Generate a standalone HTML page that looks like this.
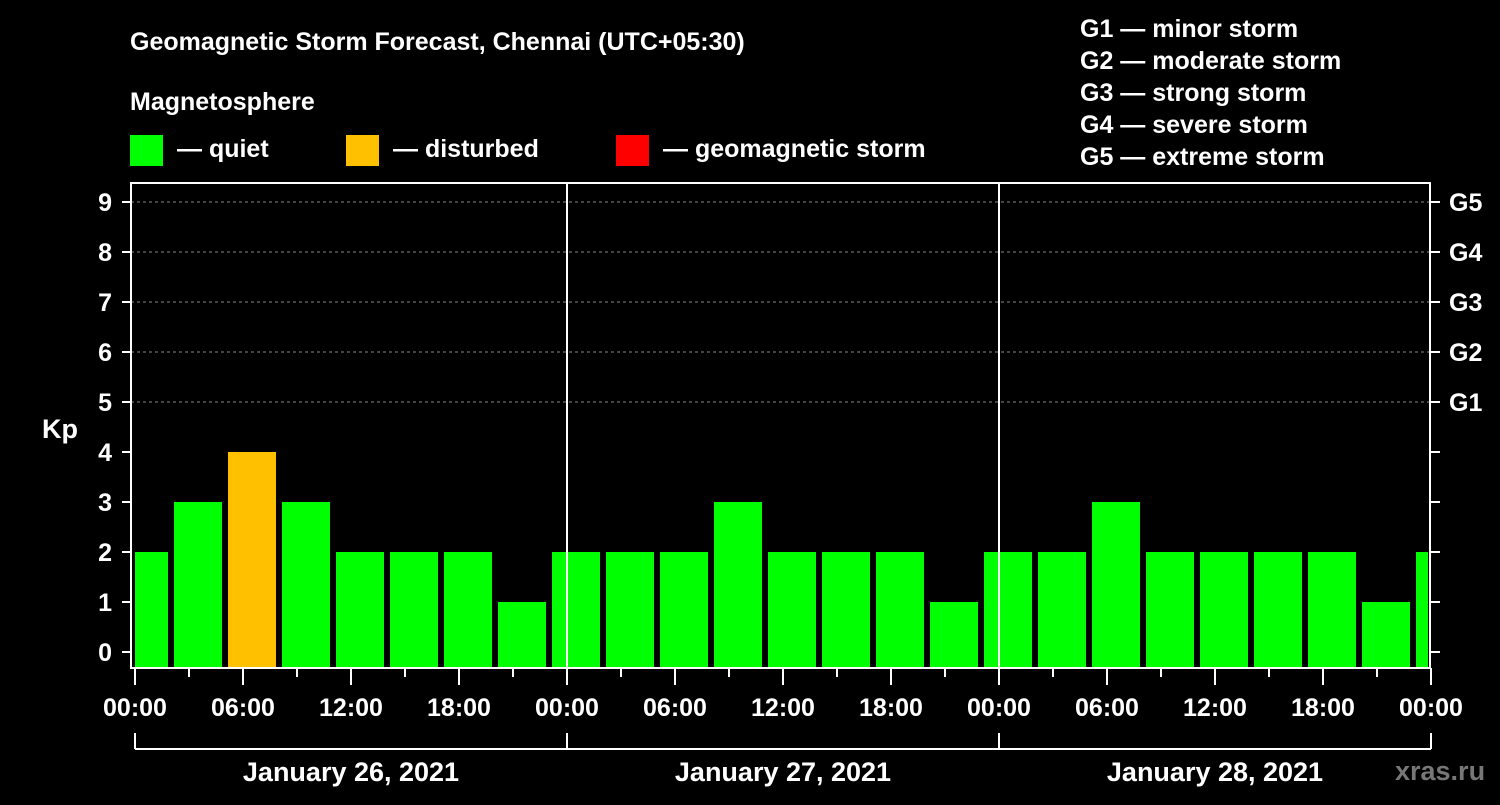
<!DOCTYPE html>
<html><head><meta charset="utf-8"><style>
body{margin:0;background:#000;width:1500px;height:800px;overflow:hidden}
svg{font-family:"Liberation Sans",Arial,sans-serif;font-weight:bold;fill:#fff}
</style></head><body>
<svg width="1500" height="800" viewBox="0 0 1500 800" id="c">
<rect width="1500" height="800" fill="#000"/>
<text x="130" y="50" font-size="25">Geomagnetic Storm Forecast, Chennai (UTC+05:30)</text>
<text x="130" y="110" font-size="25">Magnetosphere</text>
<rect x="130" y="135" width="33" height="31" fill="#00ff00"/>
<text x="177" y="157" font-size="25">— quiet</text>
<rect x="346" y="135" width="33" height="31" fill="#ffc000"/>
<text x="393" y="157" font-size="25">— disturbed</text>
<rect x="616" y="135" width="33" height="31" fill="#ff0000"/>
<text x="663" y="157" font-size="25">— geomagnetic storm</text>
<g font-size="25">
<text x="1080" y="37">G1 — minor storm</text>
<text x="1080" y="69">G2 — moderate storm</text>
<text x="1080" y="101">G3 — strong storm</text>
<text x="1080" y="133">G4 — severe storm</text>
<text x="1080" y="165">G5 — extreme storm</text>
</g>
<text x="42" y="438" font-size="27">Kp</text>
<text x="1395" y="780" font-size="27" fill="#777" style="fill:#777">xras.ru</text>
<g id="grid"></g><g id="bars"></g><g id="axes"></g>
</svg>
<script>
const kpValues=[2,3,4,3,2,2,2,1,2,2,2,3,2,2,2,1,2,2,3,2,2,2,2,1,2];
const yTicks=[0,1,2,3,4,5,6,7,8,9];
const gLabels=["G1","G2","G3","G4","G5"];
const xLabels=["00:00","06:00","12:00","18:00","00:00","06:00","12:00","18:00","00:00","06:00","12:00","18:00","00:00"];
const dayLabels=["January 26, 2021","January 27, 2021","January 28, 2021"];
const NS="http://www.w3.org/2000/svg";
const X0=135,PXH=18,L=131,R=1430,T=183,B=668;
const xs=h=>X0+h*PXH; const ys=v=>652-50*v;
function mk(t,a,p){const e=document.createElementNS(NS,t);for(const k in a)e.setAttribute(k,a[k]);p.appendChild(e);return e;}
const grid=document.getElementById('grid'),bars=document.getElementById('bars'),axes=document.getElementById('axes');
[5,6,7,8,9].forEach(v=>{const l=mk('line',{x1:L,x2:R,y1:ys(v),y2:ys(v),stroke:'#888','stroke-dasharray':'3,3','stroke-width':1},grid);
});
kpValues.forEach((v,i)=>{
  let x1,x2;
  if(i===0){x1=xs(0);x2=xs(2.5)-12;}else{x1=xs(2.5+3*(i-1))-6+5;x2=x1+48;x1=x1-5+0;x1=xs(2.5+3*(i-1))-6;x2=x1+48;}
  x2=Math.min(x2,R-2);
  const c=v>=5?'#ff0000':(v>=4?'#ffc000':'#00ff00');
  const r=mk('rect',{x:x1,y:ys(v),width:x2-x1,height:B-1-ys(v),fill:c},bars);
  
});
mk('rect',{x:L,y:T,width:R-L,height:B-T,fill:'none',stroke:'#fff','stroke-width':2},axes);
[24,48].forEach(h=>mk('line',{x1:xs(h),x2:xs(h),y1:T,y2:B,stroke:'#fff','stroke-width':2},axes));
yTicks.forEach(v=>{
  mk('line',{x1:122,x2:L,y1:ys(v),y2:ys(v),stroke:'#fff','stroke-width':2},axes);
  mk('line',{x1:R,x2:R+10,y1:ys(v),y2:ys(v),stroke:'#fff','stroke-width':2},axes);
  const t=mk('text',{x:112,y:ys(v)+9,'font-size':25,'text-anchor':'end'},axes);t.textContent=v;
  
});
gLabels.forEach((g,i)=>{const t=mk('text',{x:1449,y:ys(5+i)+9,'font-size':25},axes);t.textContent=g;
  });
for(let h=0;h<=72;h+=3){const maj=h%6===0;mk('line',{x1:xs(h),x2:xs(h),y1:B,y2:B+(maj?17:9),stroke:'#fff','stroke-width':2},axes);}
xLabels.forEach((s,i)=>{const t=mk('text',{x:xs(i*6),y:716,'font-size':25,'text-anchor':'middle'},axes);t.textContent=s;
  });
mk('line',{x1:xs(0),x2:xs(72),y1:749,y2:749,stroke:'#fff','stroke-width':2},axes);
[0,24,48,72].forEach(h=>mk('line',{x1:xs(h),x2:xs(h),y1:733,y2:749,stroke:'#fff','stroke-width':2},axes));
dayLabels.forEach((s,i)=>{const t=mk('text',{x:xs(i*24+12),y:781,'font-size':27,'text-anchor':'middle'},axes);t.textContent=s;
  });
</script>
</body></html>
